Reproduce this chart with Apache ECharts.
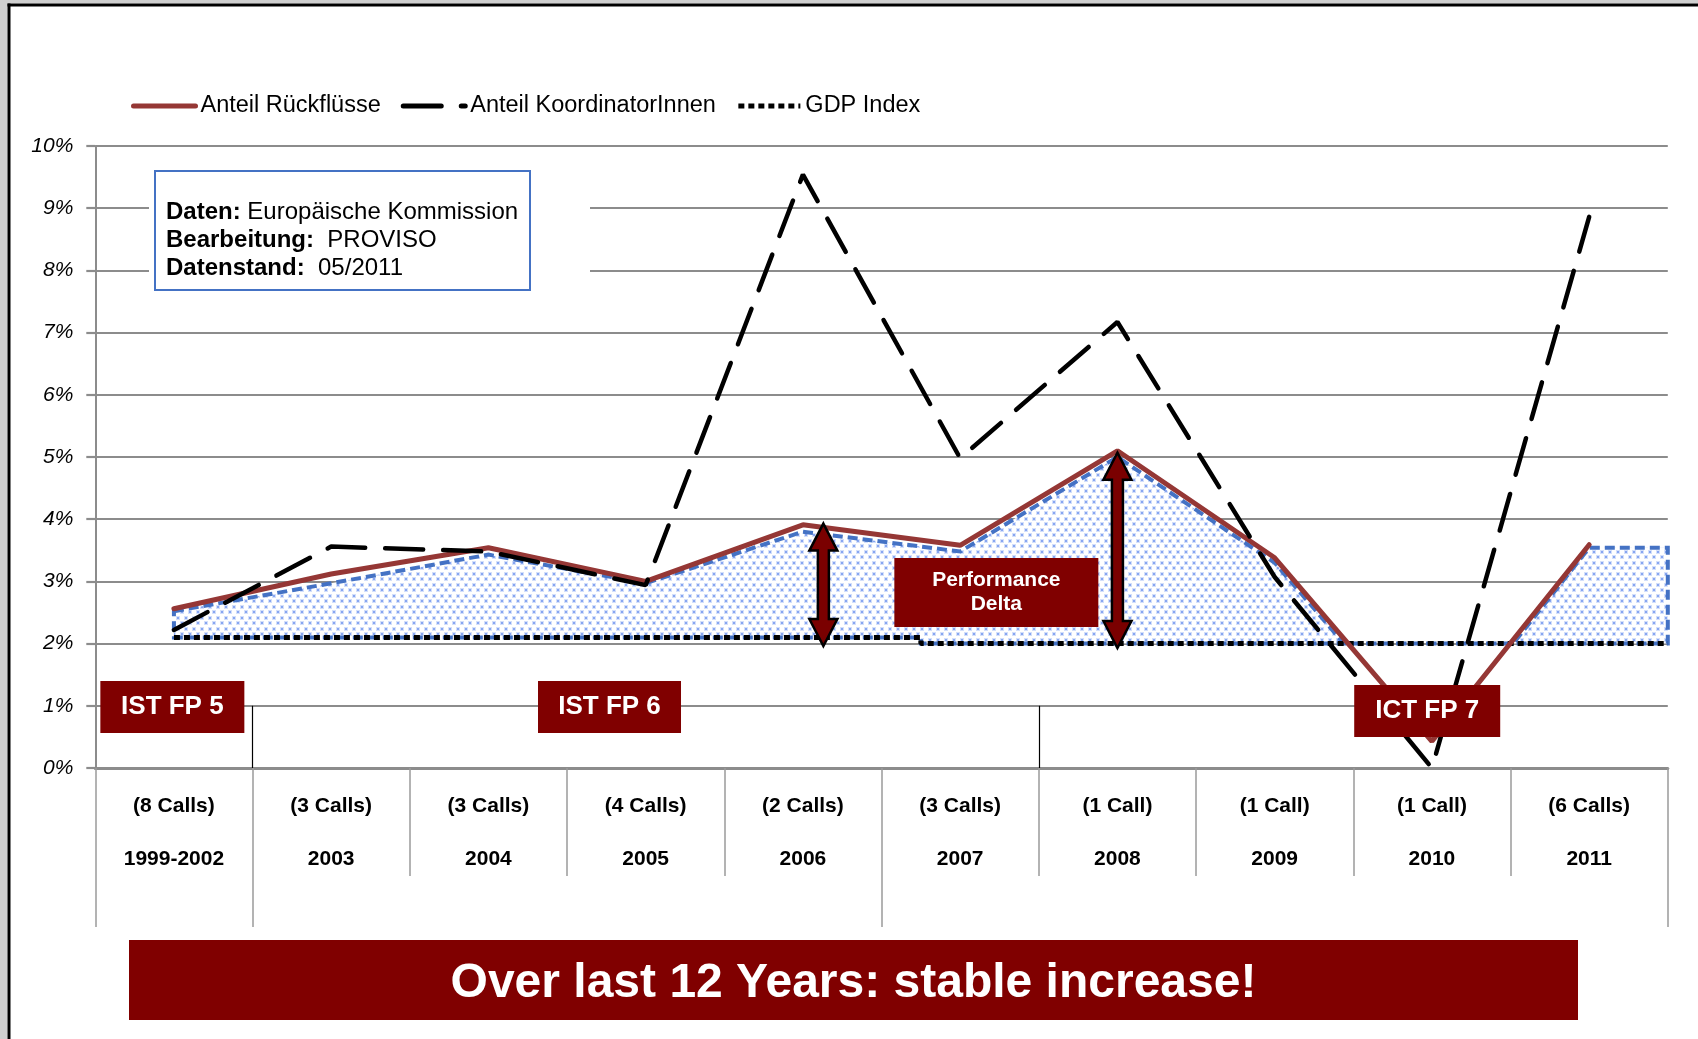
<!DOCTYPE html>
<html>
<head>
<meta charset="utf-8">
<script src="https://cdn.jsdelivr.net/npm/echarts@6/dist/echarts.min.js"></script>
<style>
  html, body { margin: 0; padding: 0; background: #fff; }
  #chart { width: 1698px; height: 1039px; }
</style>
</head>
<body>
<div id="chart"></div>
<script>
// Werte (Prozent)
const periods = ['1999-2002', '2003', '2004', '2005', '2006', '2007', '2008', '2009', '2010', '2011'];
const calls = ['(8 Calls)', '(3 Calls)', '(3 Calls)', '(4 Calls)', '(2 Calls)', '(3 Calls)', '(1 Call)', '(1 Call)', '(1 Call)', '(6 Calls)'];
const rueckfluesse = [2.56, 3.12, 3.54, 3.00, 3.91, 3.58, 5.10, 3.38, 0.43, 3.59];
const koordinatorinnen = [2.22, 3.56, 3.48, 2.94, 9.54, 4.98, 7.17, 3.07, 0.00, 8.86];
// blaue Fläche (Performance Delta), obere Kante
const performanceTop = [2.52, 2.97, 3.43, 2.97, 3.80, 3.48, 5.00, 3.30, 0.35, 3.54];
// GDP Index als Stufe (x in Kategorie-Einheiten)
const gdpX = [0.5, 5.25, 5.25, 10];
const gdpIndex = [2.1, 2.1, 2.0, 2.0];
// Programme: erste Kategorie je Programm
const programmeStart = [0, 1, 5];
// Doppelpfeile
const deltaAt = [4.63, 6.5];
const deltaLow = [1.96, 1.93];
const deltaHigh = [3.93, 5.07];

const FONT = 'Liberation Sans, Arial, Helvetica, sans-serif';
const chart = echarts.init(document.getElementById('chart'));
const xMax = periods.length;

// Punktraster für die Fläche
const dotCanvas = document.createElement('canvas');
dotCanvas.width = 8;
dotCanvas.height = 11;
const dc = dotCanvas.getContext('2d');
dc.fillStyle = '#ffffff';
dc.fillRect(0, 0, 8, 11);
dc.fillStyle = '#d3dffa';
dc.fillRect(0, 0, 4, 4);
dc.fillRect(4, 5, 4, 4);
dc.fillStyle = '#88a6f1';
dc.fillRect(1, 1, 2, 2);
dc.fillRect(5, 6, 2, 2);

const gdpAt = x => {
  let v = gdpIndex[0];
  for (let k = 0; k < gdpX.length; k++) if (x >= gdpX[k]) v = gdpIndex[k];
  return v;
};

const renderArea = (params, api) => {
  const tops = performanceTop.map((v, i) => [i + 0.5, v]);
  tops.push([xMax, performanceTop[performanceTop.length - 1]]);
  const upper = [];
  tops.forEach(([x, v], i) => {
    const g = gdpAt(x);
    if (i > 0) {
      const [px, pv] = tops[i - 1];
      if ((pv - g) * (v - g) < 0) {
        const t = (pv - g) / (pv - v);
        upper.push([px + t * (x - px), g]);
      }
    }
    upper.push([x, Math.max(v, g)]);
  });
  const lower = gdpX.map((x, k) => [x, gdpIndex[k]]).reverse();
  const points = upper.concat(lower).map(p => api.coord(p));
  return {
    type: 'polygon',
    shape: { points },
    style: {
      fill: { image: dotCanvas, repeat: 'repeat' },
      stroke: '#4472c4',
      lineWidth: 4,
      lineDash: [10, 5]
    }
  };
};

const renderArrow = (params, api) => {
  const top = api.coord([api.value(0), api.value(2)]);
  const bot = api.coord([api.value(0), api.value(1)]);
  const x = top[0], yt = top[1], yb = bot[1];
  const hw = 14, hl = 27, sw = 5.5;
  return {
    type: 'polygon',
    shape: {
      points: [
        [x, yt], [x + hw, yt + hl], [x + sw, yt + hl], [x + sw, yb - hl], [x + hw, yb - hl],
        [x, yb], [x - hw, yb - hl], [x - sw, yb - hl], [x - sw, yt + hl], [x - hw, yt + hl]
      ]
    },
    style: { fill: '#7a0000', stroke: '#000', lineWidth: 2.5, lineJoin: 'miter' }
  };
};

const boxLabel = { show: true, position: 'inside', color: '#fff', fontWeight: 'bold', fontSize: 26, fontFamily: FONT, formatter: '{b}' };

const option = {
  backgroundColor: '#fff',
  animation: false,
  textStyle: { fontFamily: FONT },
  legend: {
    data: ['Anteil Rückflüsse', 'Anteil KoordinatorInnen', 'GDP Index'],
    left: 126,
    top: 89,
    itemWidth: 62,
    itemHeight: 14,
    itemGap: 20,
    itemStyle: { opacity: 0 },
    lineStyle: { width: 5 },
    textStyle: { fontSize: 23.5, color: '#000', fontFamily: FONT }
  },
  grid: { left: 95.3, right: 30.2, top: 146, bottom: 271 },
  xAxis: [
    {
      type: 'value', min: 0, max: xMax, position: 'bottom',
      axisLine: { show: true, onZero: false, lineStyle: { color: '#8c8c8c', width: 3 } },
      axisTick: {
        show: true,
        customValues: periods.map((p, i) => i).concat([xMax]),
        length: 108,
        lineStyle: { color: '#9a9a9a', width: 1.5 }
      },
      axisLabel: {
        customValues: periods.map((p, i) => i + 0.5),
        formatter: v => { const i = Math.floor(v); return calls[i] + '\n' + periods[i]; },
        margin: 12,
        fontSize: 21,
        fontWeight: 'bold',
        lineHeight: 53,
        color: '#000',
        fontFamily: FONT
      },
      splitLine: { show: false }
    },
    {
      type: 'value', min: 0, max: xMax, position: 'bottom', offset: 0,
      axisLine: { show: false },
      axisTick: {
        show: true,
        customValues: programmeStart.concat([xMax]),
        length: 159,
        lineStyle: { color: '#9a9a9a', width: 1.5 }
      },
      axisLabel: { show: false },
      splitLine: { show: false }
    }
  ],
  yAxis: {
    type: 'value', min: 0, max: 10, interval: 1,
    axisLine: { show: true, lineStyle: { color: '#8c8c8c', width: 2 } },
    axisTick: { show: true, length: 9, lineStyle: { color: '#8c8c8c', width: 2.2 } },
    axisLabel: { formatter: '{value}%', fontStyle: 'italic', fontSize: 21, color: '#000', margin: 22, fontFamily: FONT },
    splitLine: { show: true, lineStyle: { color: '#8c8c8c', width: 2.2 } }
  },
  series: [
    {
      name: 'Performance', type: 'custom', coordinateSystem: 'cartesian2d',
      data: [[0, 0]], renderItem: renderArea, silent: true, z: 2
    },
    {
      name: 'GDP Index', type: 'line', symbol: 'none', z: 3,
      data: gdpX.map((x, k) => [x, gdpIndex[k]]),
      lineStyle: { color: '#000', width: 5, type: [6, 4] },
      itemStyle: { color: '#000' }
    },
    {
      name: 'Anteil Rückflüsse', type: 'line', symbol: 'none', z: 4, clip: false,
      data: rueckfluesse.map((v, i) => [i + 0.5, v]),
      lineStyle: { color: '#953735', width: 5, cap: 'round' },
      itemStyle: { color: '#953735' }
    },
    {
      name: 'Anteil KoordinatorInnen', type: 'line', symbol: 'none', z: 5, clip: false,
      data: koordinatorinnen.map((v, i) => [i + 0.5, v]),
      lineStyle: { color: '#000', width: 4.5, type: [38, 20], cap: 'round' },
      itemStyle: { color: '#000' }
    },
    {
      name: 'Delta', type: 'custom', coordinateSystem: 'cartesian2d', z: 6, silent: true,
      data: deltaAt.map((x, i) => [x, deltaLow[i], deltaHigh[i]]),
      encode: { x: 0, y: [1, 2] },
      renderItem: renderArrow
    },
    {
      name: 'Hinweise', type: 'line', data: [], z: 20, silent: true,
      markLine: {
        z: 20,
        symbol: 'none', silent: true,
        label: { show: false },
        lineStyle: { color: '#000', width: 1.2, type: 'solid' },
        data: [
          [{ coord: [1, 1] }, { coord: [1, 0] }],
          [{ coord: [6, 1] }, { coord: [6, 0] }]
        ]
      },
      markPoint: {
        z: 30,
        symbol: 'rect', silent: true,
        itemStyle: { color: '#800000' },
        label: boxLabel,
        data: [
          { name: 'IST FP 5', coord: [0.49, 0.98], symbolSize: [144, 52] },
          { name: 'IST FP 6', coord: [3.27, 0.98], symbolSize: [143, 52] },
          { name: 'ICT FP 7', coord: [8.47, 0.915], symbolSize: [146, 52] },
          {
            name: 'Performance\nDelta', coord: [5.73, 2.82], symbolSize: [204, 69],
            label: { fontSize: 21, lineHeight: 24 }
          }
        ]
      }
    }
  ],
  graphic: [
    { type: 'rect', z: 100, silent: true, shape: { x: 0, y: 0, width: 7.5, height: 1039 }, style: { fill: '#cfcfcf' } },
    { type: 'rect', z: 100, silent: true, shape: { x: 0, y: 0, width: 1698, height: 3.5 }, style: { fill: '#cfcfcf' } },
    { type: 'rect', z: 100, silent: true, shape: { x: 7.5, y: 3.5, width: 3, height: 1036 }, style: { fill: '#000' } },
    { type: 'rect', z: 100, silent: true, shape: { x: 7.5, y: 3.5, width: 1691, height: 3 }, style: { fill: '#000' } },
    // Infobox
    { type: 'rect', z: 100, silent: true, shape: { x: 149, y: 162, width: 441, height: 150 }, style: { fill: '#fff' } },
    { type: 'rect', z: 101, silent: true, shape: { x: 155, y: 171, width: 375, height: 119 }, style: { fill: '#fff', stroke: '#4472c4', lineWidth: 2 } },
    {
      type: 'text', z: 102, silent: true, x: 166, y: 198,
      style: {
        text: '{b|Daten:} Europäische Kommission\n{b|Bearbeitung:}  PROVISO\n{b|Datenstand:}  05/2011',
        font: '24px ' + FONT,
        fill: '#000',
        lineHeight: 28,
        verticalAlign: 'top',
        rich: { b: { fontWeight: 'bold', fontSize: 24, fontFamily: FONT, lineHeight: 28 } }
      }
    },
    // Banner
    { type: 'rect', z: 100, silent: true, shape: { x: 129, y: 940, width: 1449, height: 80 }, style: { fill: '#800000' } },
    {
      type: 'text', z: 101, silent: true, x: 853.5, y: 984,
      style: {
        text: 'Over last 12 Years: stable increase!',
        font: 'bold 48px ' + FONT,
        fill: '#fff',
        align: 'center',
        verticalAlign: 'middle'
      }
    }
  ]
};

chart.setOption(option);
</script>
</body>
</html>
